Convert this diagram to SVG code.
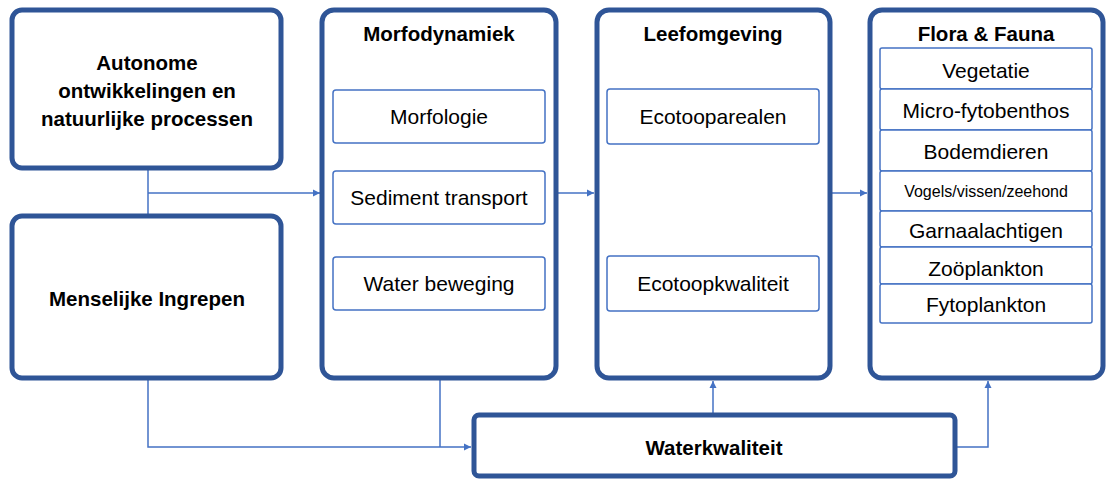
<svg xmlns="http://www.w3.org/2000/svg" width="1109" height="481" viewBox="0 0 1109 481">
<style>
.big{fill:#fff;stroke:#2F5597;stroke-width:5}
.sub{fill:#fff;stroke:#4472C4;stroke-width:1.5}
.con{fill:none;stroke:#4472C4;stroke-width:1.5}
text{font-family:"Liberation Sans",Arial,sans-serif;fill:#000;text-anchor:middle;dominant-baseline:central}
.b{font-weight:bold;font-size:20.5px}
.t{font-size:21px}
.s{font-size:16px}
</style>
<defs>
<marker id="ah" markerWidth="8" markerHeight="8" refX="7" refY="4" orient="auto" markerUnits="userSpaceOnUse">
<path d="M0,0.5 L7,4 L0,7.5 z" fill="#4472C4"/>
</marker>
</defs>
<g id="connectors">
<path class="con" d="M148,170 V214"/>
<path class="con" d="M148,193 H320" marker-end="url(#ah)"/>
<path class="con" d="M558,193 H594" marker-end="url(#ah)"/>
<path class="con" d="M832,193 H867" marker-end="url(#ah)"/>
<path class="con" d="M148,380 V447 H471" marker-end="url(#ah)"/>
<path class="con" d="M440,380 V447"/>
<path class="con" d="M713,413 V381" marker-end="url(#ah)"/>
<path class="con" d="M957,447 H988 V381" marker-end="url(#ah)"/>
</g>
<g id="autonome">
<rect class="big" x="12" y="10" width="269" height="158" rx="10"/>
<text class="b" x="147" y="62">Autonome</text>
<text class="b" x="147" y="90">ontwikkelingen en</text>
<text class="b" x="147" y="118">natuurlijke processen</text>
</g>
<g id="menselijke">
<rect class="big" x="12" y="216" width="269" height="162" rx="10"/>
<text class="b" x="147" y="298">Menselijke Ingrepen</text>
</g>
<g id="morfodynamiek">
<rect class="big" x="322" y="10" width="234" height="368" rx="12"/>
<text class="b" x="439" y="33">Morfodynamiek</text>
<rect class="sub" x="333" y="90" width="212" height="53" rx="3"/>
<text class="t" x="439" y="116">Morfologie</text>
<rect class="sub" x="333" y="171" width="212" height="53" rx="3"/>
<text class="t" x="439" y="197">Sediment transport</text>
<rect class="sub" x="333" y="257" width="212" height="53" rx="3"/>
<text class="t" x="439" y="283">Water beweging</text>
</g>
<g id="leefomgeving">
<rect class="big" x="597" y="10" width="233" height="368" rx="12"/>
<text class="b" x="713" y="33">Leefomgeving</text>
<rect class="sub" x="607" y="89" width="212" height="55" rx="3"/>
<text class="t" x="713" y="116">Ecotooparealen</text>
<rect class="sub" x="607" y="256" width="212" height="55" rx="3"/>
<text class="t" x="713" y="283">Ecotoopkwaliteit</text>
</g>
<g id="flora-fauna">
<rect class="big" x="870" y="10" width="233" height="368" rx="12"/>
<text class="b" x="986" y="33">Flora &amp; Fauna</text>
<rect class="sub" x="880" y="48" width="212" height="41" rx="2"/>
<text class="t" x="986" y="70">Vegetatie</text>
<rect class="sub" x="880" y="89" width="212" height="41" rx="2"/>
<text class="t" x="986" y="110">Micro-fytobenthos</text>
<rect class="sub" x="880" y="130" width="212" height="41" rx="2"/>
<text class="t" x="986" y="151">Bodemdieren</text>
<rect class="sub" x="880" y="171" width="212" height="40" rx="2"/>
<text class="s" x="986" y="191">Vogels/vissen/zeehond</text>
<rect class="sub" x="880" y="211" width="212" height="36" rx="2"/>
<text class="t" x="986" y="230">Garnaalachtigen</text>
<rect class="sub" x="880" y="247" width="212" height="37" rx="2"/>
<text class="t" x="986" y="268">Zoöplankton</text>
<rect class="sub" x="880" y="284" width="212" height="39" rx="2"/>
<text class="t" x="986" y="304">Fytoplankton</text>
</g>
<g id="waterkwaliteit">
<rect class="big" x="474" y="415" width="481" height="61" rx="5"/>
<text class="b" x="714" y="447">Waterkwaliteit</text>
</g>
</svg>
